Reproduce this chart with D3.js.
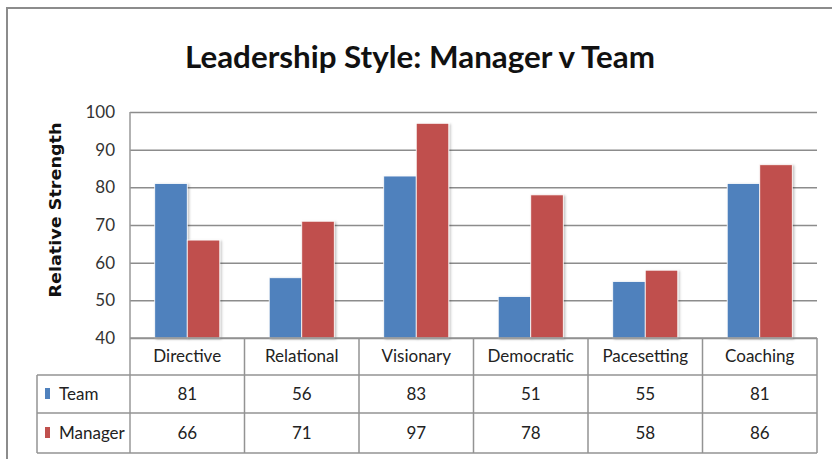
<!DOCTYPE html>
<html>
<head>
<meta charset="utf-8">
<script src="https://cdn.jsdelivr.net/npm/d3@7"></script>
<style>
    body { margin: 0; background: #fff; }
    svg { display: block; font-family: Lato, "Open Sans", sans-serif; }
</style>
</head>
<body>
<svg id="chart" width="832" height="459"></svg>
<script>
// chart data
let categories = ["Directive", "Relational", "Visionary", "Democratic", "Pacesetting", "Coaching"];
let seriesNames = ["Team", "Manager"];
let teamValues = [81, 56, 83, 51, 55, 81];
let managerValues = [66, 71, 97, 78, 58, 86];
let yTicks = [40, 50, 60, 70, 80, 90, 100];
let colors = ["#4F81BD", "#C0504D"];

let seriesValues = [teamValues, managerValues];

let svg = d3.select("#chart");

// plot area
let plotLeft = 130, plotRight = 817, plotTop = 112, plotBottom = 338;
let rowHeights = [375, 413, 453];   // bottom edges of table rows
let tableLeft = 37;

let xScale = d3.scaleBand()
    .domain(categories)
    .range([plotLeft, plotRight]);

let xInner = d3.scaleBand()
    .domain(seriesNames)
    .range([0, xScale.bandwidth()])
    .paddingOuter(0.76);

let yScale = d3.scaleLinear()
    .domain([40, 100])
    .range([plotBottom, plotTop]);

// soft shadow for bars
let defs = svg.append("defs");
let filter = defs.append("filter").attr("id", "shadow")
    .attr("x", "-20%").attr("y", "-20%").attr("width", "140%").attr("height", "140%");
filter.append("feDropShadow")
    .attr("dx", 1.5).attr("dy", 1)
    .attr("stdDeviation", 1.2)
    .attr("flood-color", "#000")
    .attr("flood-opacity", 0.25);

// outer frame
svg.append("rect")
    .attr("x", 7).attr("y", 8)
    .attr("width", 900).attr("height", 600)
    .attr("fill", "none")
    .attr("stroke", "#8c8c8c")
    .attr("stroke-width", 2);

// title
svg.append("text")
    .attr("x", 420).attr("y", 68)
    .attr("text-anchor", "middle")
    .attr("font-size", 30)
    .attr("font-weight", "bold")
    .attr("fill", "#111")
    .attr("textLength", 470)
    .attr("lengthAdjust", "spacingAndGlyphs")
    .text("Leadership Style: Manager v Team");

// y axis label
svg.append("text")
    .attr("transform", "translate(61, 210) rotate(-90)")
    .attr("text-anchor", "middle")
    .attr("font-family", "DejaVu Sans, sans-serif")
    .attr("font-size", 15)
    .attr("font-weight", "bold")
    .attr("fill", "#111")
    .attr("textLength", 175)
    .attr("lengthAdjust", "spacingAndGlyphs")
    .text("Relative Strength");

// gridlines and y axis
let yAxis = d3.axisLeft(yScale)
    .tickValues(yTicks)
    .tickSize(-(plotRight - plotLeft))
    .tickPadding(15);

let yAxisG = svg.append("g")
    .attr("transform", "translate(" + plotLeft + ",0)")
    .call(yAxis);
yAxisG.select(".domain").remove();
yAxisG.selectAll("line")
    .attr("stroke", "#8c8c8c")
    .attr("stroke-width", 1.5);
yAxisG.selectAll("text")
    .attr("font-family", "Lato, sans-serif")
    .attr("font-size", 17)
    .attr("fill", "#333");

// vertical axis line
svg.append("line")
    .attr("x1", plotLeft).attr("x2", plotLeft)
    .attr("y1", plotTop).attr("y2", rowHeights[2])
    .attr("stroke", "#999")
    .attr("stroke-width", 1.5);

// bars
let groups = svg.append("g").selectAll("g")
    .data(categories)
    .join("g")
    .attr("transform", d => "translate(" + xScale(d) + ",0)");

groups.selectAll("rect")
    .data((d, i) => seriesNames.map((s, j) => ({ series: s, value: seriesValues[j][i], idx: j })))
    .join("rect")
    .attr("x", d => xInner(d.series))
    .attr("y", d => yScale(d.value))
    .attr("width", xInner.bandwidth())
    .attr("height", d => plotBottom - yScale(d.value))
    .attr("fill", d => colors[d.idx])
    .attr("stroke", "#fff")
    .attr("stroke-width", 0.8)
    .attr("filter", "url(#shadow)");

// data table
let table = svg.append("g");
let tableColor = "#939393";

// horizontal lines
table.append("line")
    .attr("x1", plotLeft).attr("x2", plotRight)
    .attr("y1", plotBottom).attr("y2", plotBottom)
    .attr("stroke", tableColor).attr("stroke-width", 1.5);
rowHeights.forEach(function (y) {
    table.append("line")
        .attr("x1", tableLeft).attr("x2", plotRight)
        .attr("y1", y).attr("y2", y)
        .attr("stroke", tableColor).attr("stroke-width", 1.5);
});

// vertical lines
table.append("line")
    .attr("x1", tableLeft).attr("x2", tableLeft)
    .attr("y1", rowHeights[0]).attr("y2", rowHeights[2])
    .attr("stroke", tableColor).attr("stroke-width", 1.5);
categories.forEach(function (c) {
    let x = xScale(c) + xScale.bandwidth();
    table.append("line")
        .attr("x1", x).attr("x2", x)
        .attr("y1", plotBottom).attr("y2", rowHeights[2])
        .attr("stroke", tableColor).attr("stroke-width", 1.5);
});

// category header
table.selectAll(".cat")
    .data(categories)
    .join("text")
    .attr("class", "cat")
    .attr("x", d => xScale(d) + xScale.bandwidth() / 2)
    .attr("y", (plotBottom + rowHeights[0]) / 2)
    .attr("dy", "0.35em")
    .attr("text-anchor", "middle")
    .attr("font-size", 17)
    .attr("fill", "#222")
    .text(d => d);

// rows
seriesNames.forEach(function (s, j) {
    let y0 = rowHeights[j], y1 = rowHeights[j + 1];
    let cy = (y0 + y1) / 2;
    table.append("rect")
        .attr("x", 45).attr("y", cy - 6)
        .attr("width", 5).attr("height", 11)
        .attr("fill", colors[j]);
    table.append("text")
        .attr("x", 59).attr("y", cy)
        .attr("dy", "0.35em")
        .attr("font-size", 17)
        .attr("fill", "#222")
        .text(s);
    table.selectAll(".val" + j)
        .data(seriesValues[j])
        .join("text")
        .attr("class", "val" + j)
        .attr("x", (d, i) => xScale(categories[i]) + xScale.bandwidth() / 2)
        .attr("y", cy)
        .attr("dy", "0.35em")
        .attr("text-anchor", "middle")
        .attr("font-size", 17)
        .attr("fill", "#222")
        .text(d => d);
});
</script>
</body>
</html>
